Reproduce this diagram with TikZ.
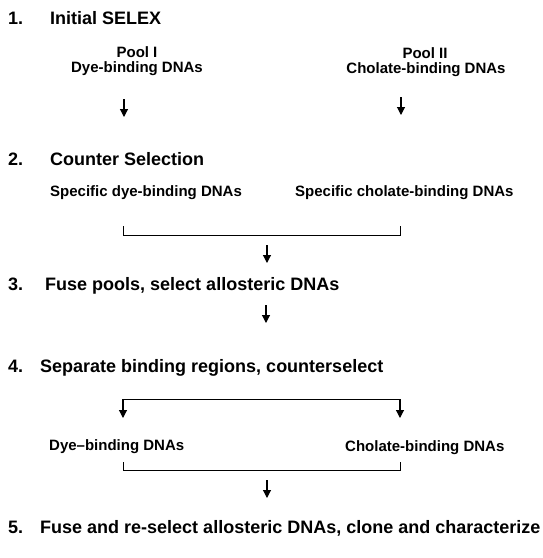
\documentclass[tikz,border=0pt]{standalone}
\usepackage{fontspec}
\setmainfont{Liberation Sans}
\usetikzlibrary{arrows.meta}
\tikzset{
  steptitle/.style={anchor=base west, inner sep=0pt, font=\fontsize{18}{21}\selectfont\bfseries},
  pooltext/.style={anchor=base, inner sep=0pt, font=\fontsize{15}{18}\selectfont\bfseries},
  arr/.style={-{Triangle[length=8pt,width=8pt]}, line width=1.1pt},
  brk/.style={line width=0.9pt}
}
\begin{document}
\begin{tikzpicture}[x=1pt,y=-1pt]
    \useasboundingbox (0,0) rectangle (542,558);
    % step numbers
    \foreach \num/\y in {1/24,2/165,3/290,4/372,5/533}
        \node[steptitle] (n\num) at (8,\y) {\num.};
    \node[steptitle] (t1) at (50,24) {Initial SELEX};
    \node[steptitle] (t2) at (50,165) {Counter Selection};
    \node[steptitle] (t3) at (45,290) {Fuse pools, select allosteric DNAs};
    \node[steptitle] (t4) at (40,372) {Separate binding regions, counterselect};
    \node[steptitle] (t5) at (40,533) {Fuse and re-select allosteric DNAs, clone and characterize};

    % 1. two pools
    \node[pooltext] (pool1) at (137,57) {Pool I};
    \node[pooltext] (dye1) at (137,72) {Dye-binding DNAs};
    \node[pooltext] (pool2) at (425,58) {Pool II};
    \node[pooltext] (chol1) at (426,73) {Cholate-binding DNAs};
    \coordinate (a1s) at (124,99);
    \coordinate (a1e) at (124,117);
    \coordinate (a2s) at (401,97);
    \coordinate (a2e) at (401,115);
    \draw[arr] (a1s) -- (a1e);
    \draw[arr] (a2s) -- (a2e);

    % 2. counter selection
    \node[pooltext, anchor=base west] (dye2) at (50,196) {Specific dye-binding DNAs};
    \node[pooltext, anchor=base west] (chol2) at (295,196) {Specific cholate-binding DNAs};
    \coordinate (b2l) at (123,226);
    \coordinate (b2r) at (400,226);
    \coordinate (b2m) at (267,245);
    \coordinate (b2e) at (267,263);
    \draw[brk] (b2l) |- (b2r |- 0,235) -- (b2r);
    \draw[arr] (b2m) -- (b2e);

    % 3. fuse pools
    \coordinate (a3s) at (266,305);
    \coordinate (a3e) at (266,323);
    \draw[arr] (a3s) -- (a3e);

    % 4. separate, counterselect
    \coordinate (s4a) at (123,399);
    \coordinate (s4b) at (400,399);
    \coordinate (s4l) at (123,418);
    \coordinate (s4r) at (400,418);
    \draw[brk] (s4a) -- (s4b);
    \draw[arr] (s4a) -- (s4l);
    \draw[arr] (s4b) -- (s4r);
    \node[pooltext, anchor=base west] (dye4) at (49,450) {Dye--binding DNAs};
    \node[pooltext, anchor=base west] (chol4) at (345,451) {Cholate-binding DNAs};
    \coordinate (b4l) at (123,462);
    \coordinate (b4r) at (400,462);
    \coordinate (b4m) at (267,480);
    \coordinate (b4e) at (267,498);
    \draw[brk] (b4l) |- (b4r |- 0,470) -- (b4r);
    \draw[arr] (b4m) -- (b4e);
\end{tikzpicture}
\end{document}
